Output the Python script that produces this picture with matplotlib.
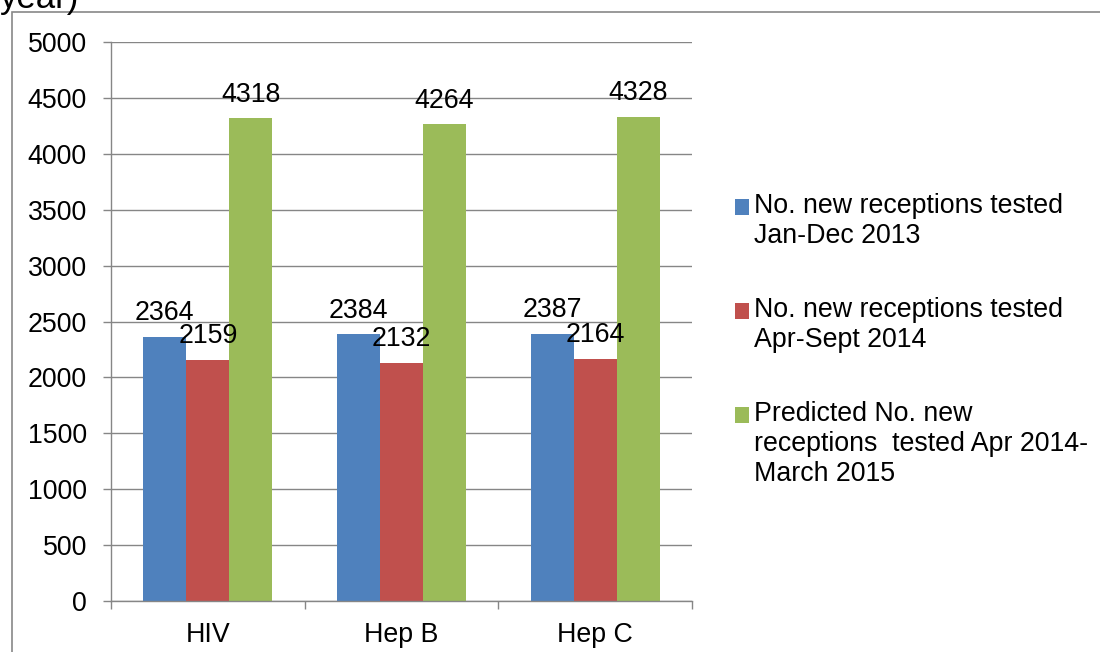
import matplotlib
matplotlib.use("Agg")
import matplotlib.pyplot as plt
import numpy as np
from matplotlib.patches import Rectangle
from matplotlib.legend_handler import HandlerPatch, update_from_first_child

plt.rcParams['font.family'] = ['Liberation Sans', 'DejaVu Sans']

categories = ["HIV", "Hep B", "Hep C"]
series_names = [
    "No. new receptions tested\nJan-Dec 2013",
    "No. new receptions tested\nApr-Sept 2014",
    "Predicted No. new\nreceptions  tested Apr 2014-\nMarch 2015",
]
jan_dec_2013 = [2364, 2384, 2387]
apr_sept_2014 = [2159, 2132, 2164]
predicted_2014_15 = [4318, 4264, 4328]
colors = ["#4F81BD", "#C0504D", "#9BBB59"]
yticks = [0, 500, 1000, 1500, 2000, 2500, 3000, 3500, 4000, 4500, 5000]

FS = 19.3
LINE_PITCH_PT = 29.5 * 0.72
fig = plt.figure(figsize=(11, 6.52), dpi=100)
ax = fig.add_axes([111/1100, 1-601/652, (692-111)/1100, (601-42)/652])

x = np.arange(len(categories))
w = 0.222
for i, (vals, name, c) in enumerate(zip([jan_dec_2013, apr_sept_2014, predicted_2014_15], series_names, colors)):
    bars = ax.bar(x + (i-1)*w, vals, width=w, color=c, label=name, zorder=3)
    for b, v in zip(bars, vals):
        ax.annotate(str(v), (b.get_x() + b.get_width()/2, v), xytext=(0, 12),
                    textcoords="offset points", ha="center", va="baseline",
                    fontsize=FS, color="black", zorder=4)

ax.set_xlim(-0.5, 2.5)
ax.set_ylim(0, 5000)
ax.set_yticks(yticks)
ax.set_yticklabels([str(t) for t in yticks])
ax.set_xticks(x)
ax.set_xticklabels(categories)
ax.set_xticks([-0.5, 0.5, 1.5, 2.5], minor=True)
ax.tick_params(axis='x', which='major', length=0, pad=15, labelsize=FS)
ax.tick_params(axis='x', which='minor', length=5.8, width=1, color="#868686", direction='out')
ax.tick_params(axis='y', which='major', length=5.8, width=1, color="#868686", pad=11.5, labelsize=FS)
ax.grid(axis='y', color="#868686", linewidth=1, zorder=0)
for s in ['top', 'right']:
    ax.spines[s].set_visible(False)
for s in ['left', 'bottom']:
    ax.spines[s].set_color("#868686")
    ax.spines[s].set_linewidth(1)
    ax.spines[s].set_zorder(5)


def top_square(legend, orig_handle, xdescent, ydescent, width, height, fontsize):
    n = orig_handle.get_label().count("\n") + 1
    shift = (n - 1) / 2 * LINE_PITCH_PT
    return Rectangle((-xdescent, -ydescent + shift), width, height)


hmap = {c: HandlerPatch(patch_func=top_square, update_func=update_from_first_child)
        for c in ax.containers}
leg = ax.legend(loc='upper left', bbox_to_anchor=(735/1100, 1-193/652),
                bbox_transform=fig.transFigure, frameon=False, fontsize=FS,
                handlelength=0.52, handleheight=0.52, handletextpad=0.18,
                labelspacing=1.79, borderpad=0, borderaxespad=0,
                handler_map=hmap)
for t in leg.get_texts():
    t.set_linespacing(1.2)

fig.patches.append(Rectangle((12/1100, -0.1), 1.2, 1.1 - 12/652, transform=fig.transFigure,
                             fill=False, edgecolor="#888888", linewidth=1.2))
fig.text(0.0, 1 - 8/652, "year)", fontsize=25, ha='left', va='baseline')

fig.savefig("out.png", dpi=100)
